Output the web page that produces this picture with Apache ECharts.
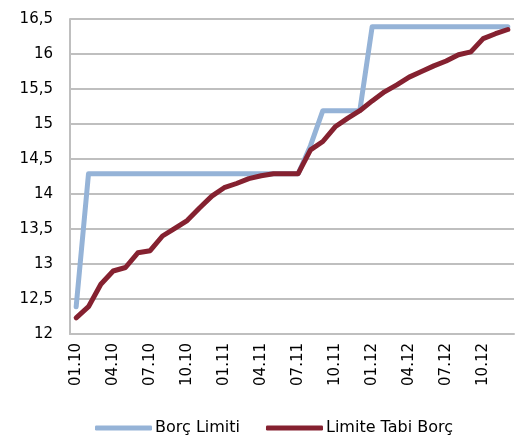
<!DOCTYPE html>
<html>
<head>
<meta charset="utf-8">
<script src="https://cdn.jsdelivr.net/npm/echarts@6/dist/echarts.min.js"></script>
<style>
  html, body { margin: 0; padding: 0; background: #fff; }
  #chart { width: 515px; height: 437px; }
</style>
</head>
<body>
<div id="chart"></div>
<script>
// Monthly categories, Jan 2010 - Dec 2012 (mm.yy)
const months = [
  '01.10','02.10','03.10','04.10','05.10','06.10','07.10','08.10','09.10','10.10','11.10','12.10',
  '01.11','02.11','03.11','04.11','05.11','06.11','07.11','08.11','09.11','10.11','11.11','12.11',
  '01.12','02.12','03.12','04.12','05.12','06.12','07.12','08.12','09.12','10.12','11.12','12.12'
];

// Statutory debt limit (trillion USD)
const borcLimiti = [
  12.39, 14.29, 14.29, 14.29, 14.29, 14.29, 14.29, 14.29, 14.29, 14.29, 14.29, 14.29,
  14.29, 14.29, 14.29, 14.29, 14.29, 14.29, 14.29, 14.69, 15.19, 15.19, 15.19, 15.19,
  16.39, 16.39, 16.39, 16.39, 16.39, 16.39, 16.39, 16.39, 16.39, 16.39, 16.39, 16.39
];

// Debt subject to limit (trillion USD)
const limiteTabiBorc = [
  12.23, 12.39, 12.71, 12.90, 12.95, 13.16, 13.19, 13.40, 13.51, 13.62, 13.80, 13.97,
  14.09, 14.15, 14.22, 14.26, 14.29, 14.29, 14.29, 14.63, 14.75, 14.96, 15.08, 15.19,
  15.33, 15.46, 15.56, 15.67, 15.75, 15.83, 15.90, 15.99, 16.03, 16.22, 16.29, 16.35
];

const FONT = 'DejaVu Sans, Verdana, sans-serif';
const chart = echarts.init(document.getElementById('chart'), null, { renderer: 'canvas' });

chart.setOption({
  animation: false,
  backgroundColor: '#ffffff',
  grid: { left: 70, right: 1, top: 19, bottom: 103, containLabel: false },
  legend: {
    bottom: 1,
    left: 95,
    padding: 0,
    itemWidth: 57,
    itemHeight: 5,
    itemGap: 26,
    icon: 'roundRect',
    textStyle: { fontFamily: FONT, fontSize: 16, color: '#000', padding: [0, 0, 0, -2] },
    data: ['Borç Limiti', 'Limite Tabi Borç']
  },
  xAxis: {
    type: 'category',
    data: months,
    boundaryGap: true,
    axisLine: { lineStyle: { color: '#bfbfbf', width: 2 } },
    axisTick: { show: false },
    axisLabel: {
      interval: 2,
      rotate: 90,
      margin: 9,
      fontFamily: FONT,
      fontSize: 15,
      color: '#000'
    }
  },
  yAxis: {
    type: 'value',
    min: 12,
    max: 16.5,
    interval: 0.5,
    axisLine: { show: true, lineStyle: { color: '#bfbfbf', width: 2 } },
    axisTick: { show: false },
    splitLine: { lineStyle: { color: '#bfbfbf', width: 2 } },
    axisLabel: {
      margin: 17,
      fontFamily: FONT,
      fontSize: 15,
      color: '#000',
      formatter: v => String(v).replace('.', ',')
    }
  },
  series: [
    {
      name: 'Borç Limiti',
      type: 'line',
      data: borcLimiti,
      symbol: 'none',
      itemStyle: { color: '#95b3d7' },
      lineStyle: { color: '#95b3d7', width: 5, cap: 'round', join: 'round' }
    },
    {
      name: 'Limite Tabi Borç',
      type: 'line',
      data: limiteTabiBorc,
      symbol: 'none',
      itemStyle: { color: '#852130' },
      lineStyle: { color: '#852130', width: 5, cap: 'round', join: 'round' }
    }
  ]
});
</script>
</body>
</html>
